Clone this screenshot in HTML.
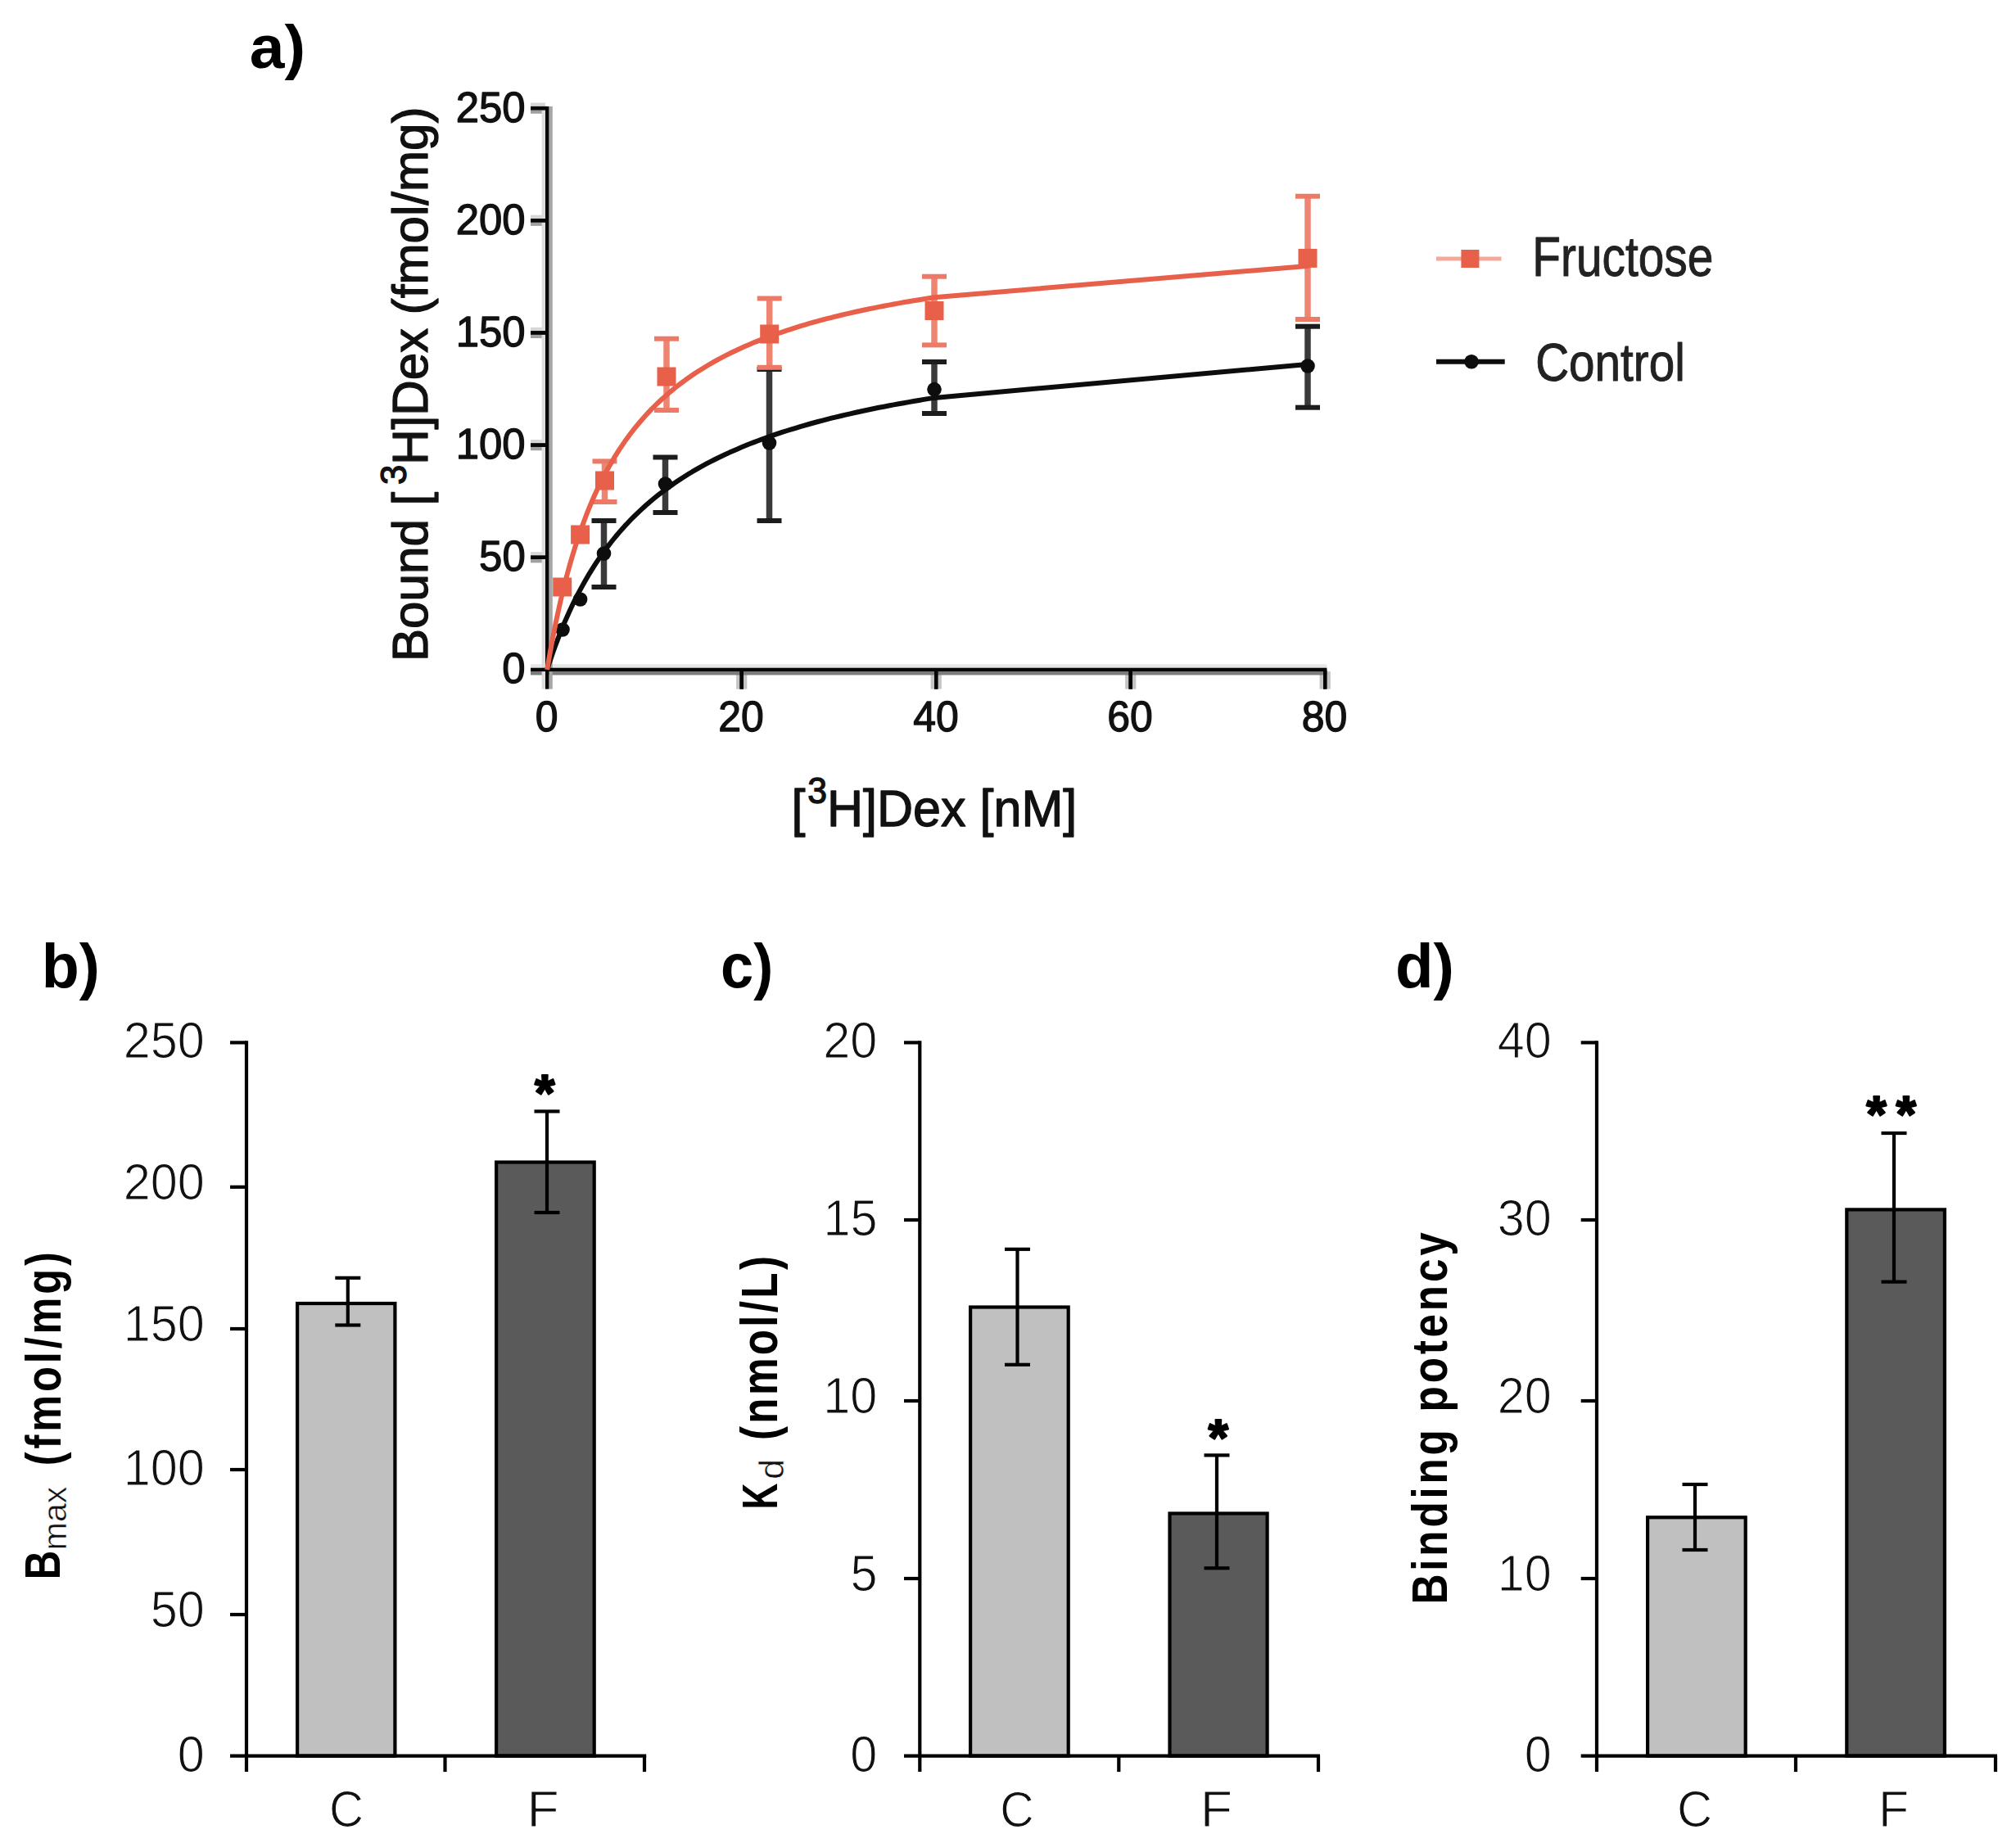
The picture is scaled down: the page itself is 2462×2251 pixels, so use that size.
<!DOCTYPE html>
<html><head><meta charset="utf-8"><title>Figure</title>
<style>html,body{margin:0;padding:0;background:#fff;}body{width:2462px;height:2251px;overflow:hidden}svg{display:block}</style>
</head><body>
<svg width="2462" height="2251" viewBox="0 0 2462 2251">
<text transform="translate(304.70,82.65) scale(1.0376,1)" font-family="Liberation Sans, Arial, sans-serif" fill="#000" xml:space="preserve"><tspan font-size="73.99" font-weight="bold">a)</tspan></text>
<text transform="translate(50.70,1206.29) scale(0.9960,1)" font-family="Liberation Sans, Arial, sans-serif" fill="#000" xml:space="preserve"><tspan font-size="75.71" font-weight="bold">b)</tspan></text>
<text transform="translate(880.11,1206.29) scale(0.9540,1)" font-family="Liberation Sans, Arial, sans-serif" fill="#000" xml:space="preserve"><tspan font-size="75.71" font-weight="bold">c)</tspan></text>
<text transform="translate(1703.95,1206.29) scale(1.0071,1)" font-family="Liberation Sans, Arial, sans-serif" fill="#000" xml:space="preserve"><tspan font-size="75.71" font-weight="bold">d)</tspan></text>
<rect x="648.00" y="674.15" width="18.00" height="4.40" fill="#d6d6d6"/>
<rect x="648.00" y="682.95" width="18.00" height="4.40" fill="#a0a0a0"/>
<rect x="648.00" y="537.00" width="18.00" height="4.40" fill="#d6d6d6"/>
<rect x="648.00" y="545.80" width="18.00" height="4.40" fill="#a0a0a0"/>
<rect x="648.00" y="399.85" width="18.00" height="4.40" fill="#d6d6d6"/>
<rect x="648.00" y="408.65" width="18.00" height="4.40" fill="#a0a0a0"/>
<rect x="648.00" y="262.70" width="18.00" height="4.40" fill="#d6d6d6"/>
<rect x="648.00" y="271.50" width="18.00" height="4.40" fill="#a0a0a0"/>
<rect x="648.00" y="125.55" width="18.00" height="4.40" fill="#d6d6d6"/>
<rect x="648.00" y="134.35" width="18.00" height="4.40" fill="#a0a0a0"/>
<rect x="899.10" y="820.10" width="4.40" height="21.50" fill="#c4c4c4"/>
<rect x="907.90" y="820.10" width="4.40" height="21.50" fill="#c4c4c4"/>
<rect x="1136.60" y="820.10" width="4.40" height="21.50" fill="#c4c4c4"/>
<rect x="1145.40" y="820.10" width="4.40" height="21.50" fill="#c4c4c4"/>
<rect x="1374.10" y="820.10" width="4.40" height="21.50" fill="#c4c4c4"/>
<rect x="1382.90" y="820.10" width="4.40" height="21.50" fill="#c4c4c4"/>
<rect x="1611.60" y="820.10" width="4.40" height="21.50" fill="#c4c4c4"/>
<rect x="1620.40" y="820.10" width="4.40" height="21.50" fill="#c4c4c4"/>
<rect x="648.00" y="811.30" width="972.40" height="4.40" fill="#e6e6e6"/>
<rect x="648.00" y="820.10" width="972.40" height="4.40" fill="#7c7c7c"/>
<rect x="661.60" y="129.95" width="4.40" height="711.65" fill="#dcdcdc"/>
<rect x="670.40" y="129.95" width="4.40" height="711.65" fill="#a6a6a6"/>
<rect x="648.00" y="678.55" width="18.00" height="4.40" fill="#050505"/>
<rect x="648.00" y="541.40" width="18.00" height="4.40" fill="#050505"/>
<rect x="648.00" y="404.25" width="18.00" height="4.40" fill="#050505"/>
<rect x="648.00" y="267.10" width="18.00" height="4.40" fill="#050505"/>
<rect x="648.00" y="129.95" width="18.00" height="4.40" fill="#050505"/>
<rect x="903.50" y="820.10" width="4.40" height="21.50" fill="#050505"/>
<rect x="1141.00" y="820.10" width="4.40" height="21.50" fill="#050505"/>
<rect x="1378.50" y="820.10" width="4.40" height="21.50" fill="#050505"/>
<rect x="1616.00" y="820.10" width="4.40" height="21.50" fill="#050505"/>
<rect x="648.00" y="815.70" width="972.40" height="4.40" fill="#050505"/>
<rect x="666.00" y="129.95" width="4.40" height="711.65" fill="#050505"/>
<rect x="648.00" y="678.55" width="20.20" height="4.40" fill="#050505"/>
<rect x="648.00" y="541.40" width="20.20" height="4.40" fill="#050505"/>
<rect x="648.00" y="404.25" width="20.20" height="4.40" fill="#050505"/>
<rect x="648.00" y="267.10" width="20.20" height="4.40" fill="#050505"/>
<rect x="648.00" y="129.95" width="20.20" height="4.40" fill="#050505"/>
<rect x="903.50" y="817.90" width="4.40" height="23.70" fill="#050505"/>
<rect x="1141.00" y="817.90" width="4.40" height="23.70" fill="#050505"/>
<rect x="1378.50" y="817.90" width="4.40" height="23.70" fill="#050505"/>
<rect x="1616.00" y="817.90" width="4.40" height="23.70" fill="#050505"/>
<line x1="737.50" y1="636.00" x2="737.50" y2="717.00" stroke="#3a3a3a" stroke-width="7.5" stroke-linecap="butt" />
<line x1="722.50" y1="636.00" x2="752.50" y2="636.00" stroke="#1c1c1c" stroke-width="6" stroke-linecap="butt" />
<line x1="722.50" y1="717.00" x2="752.50" y2="717.00" stroke="#1c1c1c" stroke-width="6" stroke-linecap="butt" />
<line x1="812.50" y1="558.50" x2="812.50" y2="626.00" stroke="#3a3a3a" stroke-width="7.5" stroke-linecap="butt" />
<line x1="797.50" y1="558.50" x2="827.50" y2="558.50" stroke="#1c1c1c" stroke-width="6" stroke-linecap="butt" />
<line x1="797.50" y1="626.00" x2="827.50" y2="626.00" stroke="#1c1c1c" stroke-width="6" stroke-linecap="butt" />
<line x1="939.50" y1="451.00" x2="939.50" y2="636.00" stroke="#3a3a3a" stroke-width="7.5" stroke-linecap="butt" />
<line x1="924.50" y1="451.00" x2="954.50" y2="451.00" stroke="#1c1c1c" stroke-width="6" stroke-linecap="butt" />
<line x1="924.50" y1="636.00" x2="954.50" y2="636.00" stroke="#1c1c1c" stroke-width="6" stroke-linecap="butt" />
<line x1="1141.00" y1="442.00" x2="1141.00" y2="505.00" stroke="#3a3a3a" stroke-width="7.5" stroke-linecap="butt" />
<line x1="1126.00" y1="442.00" x2="1156.00" y2="442.00" stroke="#1c1c1c" stroke-width="6" stroke-linecap="butt" />
<line x1="1126.00" y1="505.00" x2="1156.00" y2="505.00" stroke="#1c1c1c" stroke-width="6" stroke-linecap="butt" />
<line x1="1597.00" y1="398.70" x2="1597.00" y2="497.70" stroke="#3a3a3a" stroke-width="7.5" stroke-linecap="butt" />
<line x1="1582.00" y1="398.70" x2="1612.00" y2="398.70" stroke="#1c1c1c" stroke-width="6" stroke-linecap="butt" />
<line x1="1582.00" y1="497.70" x2="1612.00" y2="497.70" stroke="#1c1c1c" stroke-width="6" stroke-linecap="butt" />
<polyline points="668.2,817.9 668.4,817.2 668.9,815.8 669.5,813.9 670.2,811.6 671.1,808.9 672.1,806.0 673.2,802.8 674.4,799.3 675.7,795.6 677.1,791.8 678.5,787.8 680.1,783.7 681.7,779.4 683.4,775.1 685.2,770.6 687.0,766.1 688.9,761.5 690.9,756.9 693.0,752.2 695.1,747.5 697.3,742.8 699.5,738.1 701.8,733.4 704.2,728.7 706.6,724.0 709.1,719.3 711.7,714.6 714.3,710.0 716.9,705.4 719.6,700.8 722.4,696.3 725.2,691.9 728.1,687.4 731.0,683.1 734.0,678.7 737.1,674.5 740.1,670.3 743.3,666.1 746.5,662.0 749.7,658.0 753.0,654.0 756.3,650.1 759.7,646.2 763.1,642.4 766.6,638.7 770.1,635.0 773.7,631.4 777.3,627.9 781.0,624.4 784.7,620.9 788.4,617.6 792.2,614.3 796.0,611.0 799.9,607.8 803.8,604.7 807.8,601.6 811.8,598.6 815.9,595.6 820.0,592.7 824.1,589.8 828.3,587.0 832.5,584.2 836.8,581.5 841.1,578.8 845.4,576.2 849.8,573.7 854.2,571.1 858.7,568.7 863.2,566.2 867.7,563.9 872.3,561.5 876.9,559.2 881.6,557.0 886.3,554.8 891.0,552.6 895.8,550.5 900.6,548.4 905.4,546.3 910.3,544.3 915.2,542.3 920.2,540.4 925.2,538.5 930.2,536.6 935.3,534.8 940.4,532.9 945.5,531.2 950.7,529.4 955.9,527.7 961.2,526.0 966.5,524.4 971.8,522.8 977.1,521.2 982.5,519.6 988.0,518.0 993.4,516.5 998.9,515.0 1004.4,513.6 1010.0,512.1 1015.6,510.7 1021.2,509.3 1026.9,508.0 1032.6,506.6 1038.3,505.3 1044.1,504.0 1049.9,502.7 1055.7,501.5 1061.6,500.3 1067.5,499.0 1073.4,497.8 1079.4,496.7 1085.4,495.5 1091.4,494.4 1097.5,493.3 1103.6,492.2 1109.7,491.1 1115.9,490.0 1122.1,489.0 1128.3,487.9 1134.5,486.9 1140.8,485.9 1599.2,444.7" fill="none" stroke="#0d0d0d" stroke-width="6" stroke-linejoin="round" stroke-linecap="butt"/>
<circle cx="687.0" cy="769.0" r="8.8" fill="#0d0d0d"/>
<circle cx="708.6" cy="732.0" r="8.8" fill="#0d0d0d"/>
<circle cx="737.5" cy="676.0" r="8.8" fill="#0d0d0d"/>
<circle cx="812.5" cy="591.0" r="8.8" fill="#0d0d0d"/>
<circle cx="939.5" cy="541.0" r="8.8" fill="#0d0d0d"/>
<circle cx="1141.0" cy="475.6" r="8.8" fill="#0d0d0d"/>
<circle cx="1597.0" cy="447.0" r="8.8" fill="#0d0d0d"/>
<line x1="738.50" y1="563.40" x2="738.50" y2="613.00" stroke="#EE8570" stroke-width="7.5" stroke-linecap="butt" />
<line x1="723.50" y1="563.40" x2="753.50" y2="563.40" stroke="#EC7A66" stroke-width="6" stroke-linecap="butt" />
<line x1="723.50" y1="613.00" x2="753.50" y2="613.00" stroke="#EC7A66" stroke-width="6" stroke-linecap="butt" />
<line x1="814.00" y1="413.70" x2="814.00" y2="501.00" stroke="#EE8570" stroke-width="7.5" stroke-linecap="butt" />
<line x1="799.00" y1="413.70" x2="829.00" y2="413.70" stroke="#EC7A66" stroke-width="6" stroke-linecap="butt" />
<line x1="799.00" y1="501.00" x2="829.00" y2="501.00" stroke="#EC7A66" stroke-width="6" stroke-linecap="butt" />
<line x1="939.70" y1="364.50" x2="939.70" y2="448.80" stroke="#EE8570" stroke-width="7.5" stroke-linecap="butt" />
<line x1="924.70" y1="364.50" x2="954.70" y2="364.50" stroke="#EC7A66" stroke-width="6" stroke-linecap="butt" />
<line x1="924.70" y1="448.80" x2="954.70" y2="448.80" stroke="#EC7A66" stroke-width="6" stroke-linecap="butt" />
<line x1="1141.00" y1="337.70" x2="1141.00" y2="421.40" stroke="#EE8570" stroke-width="7.5" stroke-linecap="butt" />
<line x1="1126.00" y1="337.70" x2="1156.00" y2="337.70" stroke="#EC7A66" stroke-width="6" stroke-linecap="butt" />
<line x1="1126.00" y1="421.40" x2="1156.00" y2="421.40" stroke="#EC7A66" stroke-width="6" stroke-linecap="butt" />
<line x1="1597.00" y1="239.70" x2="1597.00" y2="390.00" stroke="#EE8570" stroke-width="7.5" stroke-linecap="butt" />
<line x1="1582.00" y1="239.70" x2="1612.00" y2="239.70" stroke="#EC7A66" stroke-width="6" stroke-linecap="butt" />
<line x1="1582.00" y1="390.00" x2="1612.00" y2="390.00" stroke="#EC7A66" stroke-width="6" stroke-linecap="butt" />
<polyline points="668.2,817.9 668.4,816.6 668.9,813.8 669.5,810.2 670.2,805.8 671.1,800.7 672.1,795.1 673.2,789.1 674.4,782.7 675.7,776.0 677.1,769.0 678.5,761.7 680.1,754.3 681.7,746.8 683.4,739.2 685.2,731.4 687.0,723.7 688.9,715.9 690.9,708.1 693.0,700.3 695.1,692.6 697.3,684.9 699.5,677.3 701.8,669.8 704.2,662.4 706.6,655.1 709.1,647.8 711.7,640.7 714.3,633.7 716.9,626.8 719.6,620.1 722.4,613.5 725.2,607.0 728.1,600.6 731.0,594.4 734.0,588.3 737.1,582.3 740.1,576.5 743.3,570.7 746.5,565.2 749.7,559.7 753.0,554.4 756.3,549.2 759.7,544.1 763.1,539.1 766.6,534.3 770.1,529.5 773.7,524.9 777.3,520.4 781.0,516.0 784.7,511.7 788.4,507.5 792.2,503.4 796.0,499.4 799.9,495.5 803.8,491.7 807.8,488.0 811.8,484.4 815.9,480.8 820.0,477.4 824.1,474.0 828.3,470.7 832.5,467.5 836.8,464.3 841.1,461.3 845.4,458.3 849.8,455.3 854.2,452.5 858.7,449.7 863.2,447.0 867.7,444.3 872.3,441.7 876.9,439.1 881.6,436.7 886.3,434.2 891.0,431.8 895.8,429.5 900.6,427.2 905.4,425.0 910.3,422.8 915.2,420.7 920.2,418.6 925.2,416.6 930.2,414.6 935.3,412.7 940.4,410.7 945.5,408.9 950.7,407.0 955.9,405.3 961.2,403.5 966.5,401.8 971.8,400.1 977.1,398.4 982.5,396.8 988.0,395.2 993.4,393.7 998.9,392.2 1004.4,390.7 1010.0,389.2 1015.6,387.8 1021.2,386.4 1026.9,385.0 1032.6,383.7 1038.3,382.3 1044.1,381.0 1049.9,379.8 1055.7,378.5 1061.6,377.3 1067.5,376.1 1073.4,374.9 1079.4,373.7 1085.4,372.6 1091.4,371.5 1097.5,370.4 1103.6,369.3 1109.7,368.2 1115.9,367.2 1122.1,366.2 1128.3,365.2 1134.5,364.2 1140.8,363.2 1599.2,324.7" fill="none" stroke="#E8604A" stroke-width="6" stroke-linejoin="round" stroke-linecap="butt"/>
<rect x="675.20" y="705.50" width="23.00" height="23.00" fill="#E8604A"/>
<rect x="697.10" y="641.50" width="23.00" height="23.00" fill="#E8604A"/>
<rect x="727.00" y="575.50" width="23.00" height="23.00" fill="#E8604A"/>
<rect x="802.50" y="448.50" width="23.00" height="23.00" fill="#E8604A"/>
<rect x="928.20" y="396.50" width="23.00" height="23.00" fill="#E8604A"/>
<rect x="1129.50" y="368.00" width="23.00" height="23.00" fill="#E8604A"/>
<rect x="1585.50" y="303.90" width="23.00" height="23.00" fill="#E8604A"/>
<text transform="translate(613.35,834.45) scale(0.9700,1)" font-family="Liberation Sans, Arial, sans-serif" fill="#111" stroke="#111" stroke-width="1.3" stroke-linejoin="round" xml:space="preserve"><tspan font-size="52.50" font-weight="normal">0</tspan></text>
<text transform="translate(585.08,697.30) scale(0.9700,1)" font-family="Liberation Sans, Arial, sans-serif" fill="#111" stroke="#111" stroke-width="1.3" stroke-linejoin="round" xml:space="preserve"><tspan font-size="52.50" font-weight="normal">50</tspan></text>
<text transform="translate(556.69,560.15) scale(0.9700,1)" font-family="Liberation Sans, Arial, sans-serif" fill="#111" stroke="#111" stroke-width="1.3" stroke-linejoin="round" xml:space="preserve"><tspan font-size="52.50" font-weight="normal">100</tspan></text>
<text transform="translate(556.69,423.00) scale(0.9700,1)" font-family="Liberation Sans, Arial, sans-serif" fill="#111" stroke="#111" stroke-width="1.3" stroke-linejoin="round" xml:space="preserve"><tspan font-size="52.50" font-weight="normal">150</tspan></text>
<text transform="translate(556.69,285.85) scale(0.9700,1)" font-family="Liberation Sans, Arial, sans-serif" fill="#111" stroke="#111" stroke-width="1.3" stroke-linejoin="round" xml:space="preserve"><tspan font-size="52.50" font-weight="normal">200</tspan></text>
<text transform="translate(556.69,148.70) scale(0.9700,1)" font-family="Liberation Sans, Arial, sans-serif" fill="#111" stroke="#111" stroke-width="1.3" stroke-linejoin="round" xml:space="preserve"><tspan font-size="52.50" font-weight="normal">250</tspan></text>
<text transform="translate(653.78,893.20) scale(0.9700,1)" font-family="Liberation Sans, Arial, sans-serif" fill="#111" stroke="#111" stroke-width="1.3" stroke-linejoin="round" xml:space="preserve"><tspan font-size="51.50" font-weight="normal">0</tspan></text>
<text transform="translate(877.16,893.20) scale(0.9700,1)" font-family="Liberation Sans, Arial, sans-serif" fill="#111" stroke="#111" stroke-width="1.3" stroke-linejoin="round" xml:space="preserve"><tspan font-size="51.50" font-weight="normal">20</tspan></text>
<text transform="translate(1115.35,893.20) scale(0.9700,1)" font-family="Liberation Sans, Arial, sans-serif" fill="#111" stroke="#111" stroke-width="1.3" stroke-linejoin="round" xml:space="preserve"><tspan font-size="51.50" font-weight="normal">40</tspan></text>
<text transform="translate(1352.16,893.20) scale(0.9700,1)" font-family="Liberation Sans, Arial, sans-serif" fill="#111" stroke="#111" stroke-width="1.3" stroke-linejoin="round" xml:space="preserve"><tspan font-size="51.50" font-weight="normal">60</tspan></text>
<text transform="translate(1589.85,893.20) scale(0.9700,1)" font-family="Liberation Sans, Arial, sans-serif" fill="#111" stroke="#111" stroke-width="1.3" stroke-linejoin="round" xml:space="preserve"><tspan font-size="51.50" font-weight="normal">80</tspan></text>
<text transform="translate(522.00,807.96) rotate(-90) scale(0.9694,1)" font-family="Liberation Sans, Arial, sans-serif" fill="#111" stroke="#111" stroke-width="1.3" stroke-linejoin="round" xml:space="preserve"><tspan font-size="62.00" font-weight="normal">Bound [</tspan><tspan font-size="45.00" font-weight="normal" dy="-26.00" dx="9.00">3</tspan><tspan font-size="62.00" font-weight="normal" dy="26.00">H]Dex (fmol/mg)</tspan></text>
<text transform="translate(966.43,1008.70) scale(0.9691,1)" font-family="Liberation Sans, Arial, sans-serif" fill="#111" stroke="#111" stroke-width="1.3" stroke-linejoin="round" xml:space="preserve"><tspan font-size="63.00" font-weight="normal">[</tspan><tspan font-size="44.00" font-weight="normal" dy="-27.70" dx="3.00">3</tspan><tspan font-size="63.00" font-weight="normal" dy="27.70">H]Dex [nM]</tspan></text>
<line x1="1754.00" y1="316.00" x2="1833.50" y2="316.00" stroke="#F3A99B" stroke-width="5" stroke-linecap="butt" />
<rect x="1784.40" y="305.00" width="22.00" height="22.00" fill="#E8604A"/>
<line x1="1754.00" y1="441.70" x2="1837.70" y2="441.70" stroke="#0d0d0d" stroke-width="6" stroke-linecap="butt" />
<circle cx="1797" cy="441.7" r="8.8" fill="#0d0d0d"/>
<text transform="translate(1871.31,336.52) scale(0.8329,1)" font-family="Liberation Sans, Arial, sans-serif" fill="#222" stroke="#222" stroke-width="1.0" stroke-linejoin="round" xml:space="preserve"><tspan font-size="68.24" font-weight="normal">Fructose</tspan></text>
<text transform="translate(1875.17,464.65) scale(0.8709,1)" font-family="Liberation Sans, Arial, sans-serif" fill="#222" stroke="#222" stroke-width="1.0" stroke-linejoin="round" xml:space="preserve"><tspan font-size="65.03" font-weight="normal">Control</tspan></text>
<rect x="363.10" y="1592.00" width="119.30" height="552.60" fill="#c0c0c0" stroke="#000" stroke-width="4.2"/>
<rect x="606.10" y="1419.50" width="119.60" height="725.10" fill="#5a5a5a" stroke="#000" stroke-width="4.2"/>
<line x1="424.80" y1="1560.80" x2="424.80" y2="1618.50" stroke="#000" stroke-width="4.2" stroke-linecap="butt" />
<line x1="409.30" y1="1560.80" x2="440.30" y2="1560.80" stroke="#000" stroke-width="4.2" stroke-linecap="butt" />
<line x1="409.30" y1="1618.50" x2="440.30" y2="1618.50" stroke="#000" stroke-width="4.2" stroke-linecap="butt" />
<line x1="668.00" y1="1357.40" x2="668.00" y2="1481.00" stroke="#000" stroke-width="4.2" stroke-linecap="butt" />
<line x1="652.50" y1="1357.40" x2="683.50" y2="1357.40" stroke="#000" stroke-width="4.2" stroke-linecap="butt" />
<line x1="652.50" y1="1481.00" x2="683.50" y2="1481.00" stroke="#000" stroke-width="4.2" stroke-linecap="butt" />
<line x1="301.00" y1="1271.30" x2="301.00" y2="2164.10" stroke="#000" stroke-width="4.2" stroke-linecap="butt" />
<line x1="281.00" y1="2144.60" x2="789.20" y2="2144.60" stroke="#000" stroke-width="4.2" stroke-linecap="butt" />
<line x1="281.00" y1="1273.40" x2="301.00" y2="1273.40" stroke="#000" stroke-width="4.2" stroke-linecap="butt" />
<line x1="281.00" y1="1449.80" x2="301.00" y2="1449.80" stroke="#000" stroke-width="4.2" stroke-linecap="butt" />
<line x1="281.00" y1="1623.00" x2="301.00" y2="1623.00" stroke="#000" stroke-width="4.2" stroke-linecap="butt" />
<line x1="281.00" y1="1795.00" x2="301.00" y2="1795.00" stroke="#000" stroke-width="4.2" stroke-linecap="butt" />
<line x1="281.00" y1="1972.00" x2="301.00" y2="1972.00" stroke="#000" stroke-width="4.2" stroke-linecap="butt" />
<line x1="543.50" y1="2144.60" x2="543.50" y2="2164.10" stroke="#000" stroke-width="4.2" stroke-linecap="butt" />
<line x1="787.00" y1="2144.60" x2="787.00" y2="2164.10" stroke="#000" stroke-width="4.2" stroke-linecap="butt" />
<text transform="translate(150.68,1292.38) scale(0.9550,1)" font-family="Liberation Sans, Arial, sans-serif" fill="#111" stroke="#fff" stroke-width="1.1" stroke-linejoin="round" xml:space="preserve"><tspan font-size="62.20" font-weight="normal">250</tspan></text>
<text transform="translate(150.68,1465.08) scale(0.9550,1)" font-family="Liberation Sans, Arial, sans-serif" fill="#111" stroke="#fff" stroke-width="1.1" stroke-linejoin="round" xml:space="preserve"><tspan font-size="62.20" font-weight="normal">200</tspan></text>
<text transform="translate(150.68,1638.08) scale(0.9550,1)" font-family="Liberation Sans, Arial, sans-serif" fill="#111" stroke="#fff" stroke-width="1.1" stroke-linejoin="round" xml:space="preserve"><tspan font-size="62.20" font-weight="normal">150</tspan></text>
<text transform="translate(150.68,1814.38) scale(0.9550,1)" font-family="Liberation Sans, Arial, sans-serif" fill="#111" stroke="#fff" stroke-width="1.1" stroke-linejoin="round" xml:space="preserve"><tspan font-size="62.20" font-weight="normal">100</tspan></text>
<text transform="translate(183.79,1987.38) scale(0.9550,1)" font-family="Liberation Sans, Arial, sans-serif" fill="#111" stroke="#fff" stroke-width="1.1" stroke-linejoin="round" xml:space="preserve"><tspan font-size="62.20" font-weight="normal">50</tspan></text>
<text transform="translate(216.76,2163.88) scale(0.9550,1)" font-family="Liberation Sans, Arial, sans-serif" fill="#111" stroke="#fff" stroke-width="1.1" stroke-linejoin="round" xml:space="preserve"><tspan font-size="62.20" font-weight="normal">0</tspan></text>
<text transform="translate(402.09,2230.67) scale(0.9243,1)" font-family="Liberation Sans, Arial, sans-serif" fill="#111" stroke="#fff" stroke-width="1.1" stroke-linejoin="round" xml:space="preserve"><tspan font-size="63.04" font-weight="normal">C</tspan></text>
<text transform="translate(643.40,2231.00) scale(1.0147,1)" font-family="Liberation Sans, Arial, sans-serif" fill="#111" stroke="#fff" stroke-width="1.1" stroke-linejoin="round" xml:space="preserve"><tspan font-size="63.27" font-weight="normal">F</tspan></text>
<rect x="1185.10" y="1596.50" width="119.60" height="548.10" fill="#c0c0c0" stroke="#000" stroke-width="4.2"/>
<rect x="1428.50" y="1848.50" width="119.10" height="296.10" fill="#5a5a5a" stroke="#000" stroke-width="4.2"/>
<line x1="1242.50" y1="1525.80" x2="1242.50" y2="1666.80" stroke="#000" stroke-width="4.2" stroke-linecap="butt" />
<line x1="1227.00" y1="1525.80" x2="1258.00" y2="1525.80" stroke="#000" stroke-width="4.2" stroke-linecap="butt" />
<line x1="1227.00" y1="1666.80" x2="1258.00" y2="1666.80" stroke="#000" stroke-width="4.2" stroke-linecap="butt" />
<line x1="1486.00" y1="1777.40" x2="1486.00" y2="1915.30" stroke="#000" stroke-width="4.2" stroke-linecap="butt" />
<line x1="1470.50" y1="1777.40" x2="1501.50" y2="1777.40" stroke="#000" stroke-width="4.2" stroke-linecap="butt" />
<line x1="1470.50" y1="1915.30" x2="1501.50" y2="1915.30" stroke="#000" stroke-width="4.2" stroke-linecap="butt" />
<line x1="1123.30" y1="1271.30" x2="1123.30" y2="2164.10" stroke="#000" stroke-width="4.2" stroke-linecap="butt" />
<line x1="1104.00" y1="2144.60" x2="1612.00" y2="2144.60" stroke="#000" stroke-width="4.2" stroke-linecap="butt" />
<line x1="1104.00" y1="1273.40" x2="1123.30" y2="1273.40" stroke="#000" stroke-width="4.2" stroke-linecap="butt" />
<line x1="1104.00" y1="1490.00" x2="1123.30" y2="1490.00" stroke="#000" stroke-width="4.2" stroke-linecap="butt" />
<line x1="1104.00" y1="1711.00" x2="1123.30" y2="1711.00" stroke="#000" stroke-width="4.2" stroke-linecap="butt" />
<line x1="1104.00" y1="1928.00" x2="1123.30" y2="1928.00" stroke="#000" stroke-width="4.2" stroke-linecap="butt" />
<line x1="1366.30" y1="2144.60" x2="1366.30" y2="2164.10" stroke="#000" stroke-width="4.2" stroke-linecap="butt" />
<line x1="1610.00" y1="2144.60" x2="1610.00" y2="2164.10" stroke="#000" stroke-width="4.2" stroke-linecap="butt" />
<text transform="translate(1005.29,1292.38) scale(0.9550,1)" font-family="Liberation Sans, Arial, sans-serif" fill="#111" stroke="#fff" stroke-width="1.1" stroke-linejoin="round" xml:space="preserve"><tspan font-size="62.20" font-weight="normal">20</tspan></text>
<text transform="translate(1005.44,1509.38) scale(0.9550,1)" font-family="Liberation Sans, Arial, sans-serif" fill="#111" stroke="#fff" stroke-width="1.1" stroke-linejoin="round" xml:space="preserve"><tspan font-size="62.20" font-weight="normal">15</tspan></text>
<text transform="translate(1005.29,1726.18) scale(0.9550,1)" font-family="Liberation Sans, Arial, sans-serif" fill="#111" stroke="#fff" stroke-width="1.1" stroke-linejoin="round" xml:space="preserve"><tspan font-size="62.20" font-weight="normal">10</tspan></text>
<text transform="translate(1038.41,1943.18) scale(0.9550,1)" font-family="Liberation Sans, Arial, sans-serif" fill="#111" stroke="#fff" stroke-width="1.1" stroke-linejoin="round" xml:space="preserve"><tspan font-size="62.20" font-weight="normal">5</tspan></text>
<text transform="translate(1038.26,2163.88) scale(0.9550,1)" font-family="Liberation Sans, Arial, sans-serif" fill="#111" stroke="#fff" stroke-width="1.1" stroke-linejoin="round" xml:space="preserve"><tspan font-size="62.20" font-weight="normal">0</tspan></text>
<text transform="translate(1221.13,2230.68) scale(0.9259,1)" font-family="Liberation Sans, Arial, sans-serif" fill="#111" stroke="#fff" stroke-width="1.1" stroke-linejoin="round" xml:space="preserve"><tspan font-size="61.91" font-weight="normal">C</tspan></text>
<text transform="translate(1465.69,2231.00) scale(1.0298,1)" font-family="Liberation Sans, Arial, sans-serif" fill="#111" stroke="#fff" stroke-width="1.1" stroke-linejoin="round" xml:space="preserve"><tspan font-size="62.55" font-weight="normal">F</tspan></text>
<rect x="2012.10" y="1853.30" width="119.60" height="291.30" fill="#c0c0c0" stroke="#000" stroke-width="4.2"/>
<rect x="2255.30" y="1477.40" width="119.60" height="667.20" fill="#5a5a5a" stroke="#000" stroke-width="4.2"/>
<line x1="2070.00" y1="1813.00" x2="2070.00" y2="1893.00" stroke="#000" stroke-width="4.2" stroke-linecap="butt" />
<line x1="2054.50" y1="1813.00" x2="2085.50" y2="1813.00" stroke="#000" stroke-width="4.2" stroke-linecap="butt" />
<line x1="2054.50" y1="1893.00" x2="2085.50" y2="1893.00" stroke="#000" stroke-width="4.2" stroke-linecap="butt" />
<line x1="2313.00" y1="1384.00" x2="2313.00" y2="1565.60" stroke="#000" stroke-width="4.2" stroke-linecap="butt" />
<line x1="2297.50" y1="1384.00" x2="2328.50" y2="1384.00" stroke="#000" stroke-width="4.2" stroke-linecap="butt" />
<line x1="2297.50" y1="1565.60" x2="2328.50" y2="1565.60" stroke="#000" stroke-width="4.2" stroke-linecap="butt" />
<line x1="1950.00" y1="1271.30" x2="1950.00" y2="2164.10" stroke="#000" stroke-width="4.2" stroke-linecap="butt" />
<line x1="1930.70" y1="2144.60" x2="2439.00" y2="2144.60" stroke="#000" stroke-width="4.2" stroke-linecap="butt" />
<line x1="1930.70" y1="1273.40" x2="1950.00" y2="1273.40" stroke="#000" stroke-width="4.2" stroke-linecap="butt" />
<line x1="1930.70" y1="1490.00" x2="1950.00" y2="1490.00" stroke="#000" stroke-width="4.2" stroke-linecap="butt" />
<line x1="1930.70" y1="1711.00" x2="1950.00" y2="1711.00" stroke="#000" stroke-width="4.2" stroke-linecap="butt" />
<line x1="1930.70" y1="1928.00" x2="1950.00" y2="1928.00" stroke="#000" stroke-width="4.2" stroke-linecap="butt" />
<line x1="2193.00" y1="2144.60" x2="2193.00" y2="2164.10" stroke="#000" stroke-width="4.2" stroke-linecap="butt" />
<line x1="2437.00" y1="2144.60" x2="2437.00" y2="2164.10" stroke="#000" stroke-width="4.2" stroke-linecap="butt" />
<text transform="translate(1828.79,1292.38) scale(0.9550,1)" font-family="Liberation Sans, Arial, sans-serif" fill="#111" stroke="#fff" stroke-width="1.1" stroke-linejoin="round" xml:space="preserve"><tspan font-size="62.20" font-weight="normal">40</tspan></text>
<text transform="translate(1828.79,1509.38) scale(0.9550,1)" font-family="Liberation Sans, Arial, sans-serif" fill="#111" stroke="#fff" stroke-width="1.1" stroke-linejoin="round" xml:space="preserve"><tspan font-size="62.20" font-weight="normal">30</tspan></text>
<text transform="translate(1828.79,1725.88) scale(0.9550,1)" font-family="Liberation Sans, Arial, sans-serif" fill="#111" stroke="#fff" stroke-width="1.1" stroke-linejoin="round" xml:space="preserve"><tspan font-size="62.20" font-weight="normal">20</tspan></text>
<text transform="translate(1828.79,1942.68) scale(0.9550,1)" font-family="Liberation Sans, Arial, sans-serif" fill="#111" stroke="#fff" stroke-width="1.1" stroke-linejoin="round" xml:space="preserve"><tspan font-size="62.20" font-weight="normal">10</tspan></text>
<text transform="translate(1861.76,2163.88) scale(0.9550,1)" font-family="Liberation Sans, Arial, sans-serif" fill="#111" stroke="#fff" stroke-width="1.1" stroke-linejoin="round" xml:space="preserve"><tspan font-size="62.20" font-weight="normal">0</tspan></text>
<text transform="translate(2048.01,2230.68) scale(0.9622,1)" font-family="Liberation Sans, Arial, sans-serif" fill="#111" stroke="#fff" stroke-width="1.1" stroke-linejoin="round" xml:space="preserve"><tspan font-size="62.19" font-weight="normal">C</tspan></text>
<text transform="translate(2293.97,2231.00) scale(0.9629,1)" font-family="Liberation Sans, Arial, sans-serif" fill="#111" stroke="#fff" stroke-width="1.1" stroke-linejoin="round" xml:space="preserve"><tspan font-size="63.27" font-weight="normal">F</tspan></text>
<text transform="translate(653.11,1355.58) scale(1.0000,1)" font-family="Liberation Sans, Arial, sans-serif" fill="#000" stroke="#000" stroke-width="2.2" stroke-linejoin="round" xml:space="preserve"><tspan font-size="63.00" font-weight="bold">*</tspan></text>
<text transform="translate(1475.51,1776.58) scale(1.0000,1)" font-family="Liberation Sans, Arial, sans-serif" fill="#000" stroke="#000" stroke-width="2.2" stroke-linejoin="round" xml:space="preserve"><tspan font-size="63.00" font-weight="bold">*</tspan></text>
<text transform="translate(2279.32,1382.38) scale(1.0000,1)" font-family="Liberation Sans, Arial, sans-serif" fill="#000" stroke="#000" stroke-width="2.2" stroke-linejoin="round" xml:space="preserve"><tspan font-size="63.00" font-weight="bold">*</tspan></text>
<text transform="translate(2315.41,1382.38) scale(1.0000,1)" font-family="Liberation Sans, Arial, sans-serif" fill="#000" stroke="#000" stroke-width="2.2" stroke-linejoin="round" xml:space="preserve"><tspan font-size="63.00" font-weight="bold">*</tspan></text>
<text transform="translate(73.20,1929.32) rotate(-90) scale(0.8062,1)" font-family="Liberation Sans, Arial, sans-serif" fill="#000" xml:space="preserve"><tspan font-size="61.00" font-weight="bold">B</tspan></text>
<text transform="translate(81.40,1893.49) rotate(-90) scale(1.0066,1)" font-family="Liberation Sans, Arial, sans-serif" fill="#111" stroke="#fff" stroke-width="0.6" stroke-linejoin="round" xml:space="preserve"><tspan font-size="41.00" font-weight="normal">max</tspan></text>
<text transform="translate(73.90,1790.13) rotate(-90) scale(0.8200,1)" font-family="Liberation Sans, Arial, sans-serif" fill="#000" letter-spacing="4.680" xml:space="preserve"><tspan font-size="61.70" font-weight="bold">(fmol/mg)</tspan></text>
<text transform="translate(948.70,1843.48) rotate(-90) scale(0.7244,1)" font-family="Liberation Sans, Arial, sans-serif" fill="#000" xml:space="preserve"><tspan font-size="61.00" font-weight="bold">K</tspan></text>
<text transform="translate(957.30,1807.12) rotate(-90) scale(1.0639,1)" font-family="Liberation Sans, Arial, sans-serif" fill="#111" stroke="#fff" stroke-width="0.6" stroke-linejoin="round" xml:space="preserve"><tspan font-size="42.40" font-weight="normal">d</tspan></text>
<text transform="translate(948.70,1758.96) rotate(-90) scale(0.8200,1)" font-family="Liberation Sans, Arial, sans-serif" fill="#000" letter-spacing="3.985" xml:space="preserve"><tspan font-size="62.50" font-weight="bold">(nmol/L)</tspan></text>
<text transform="translate(1766.80,1959.46) rotate(-90) scale(0.8400,1)" font-family="Liberation Sans, Arial, sans-serif" fill="#000" letter-spacing="4.488" xml:space="preserve"><tspan font-size="61.00" font-weight="bold">Binding potency</tspan></text>
</svg>
</body></html>
